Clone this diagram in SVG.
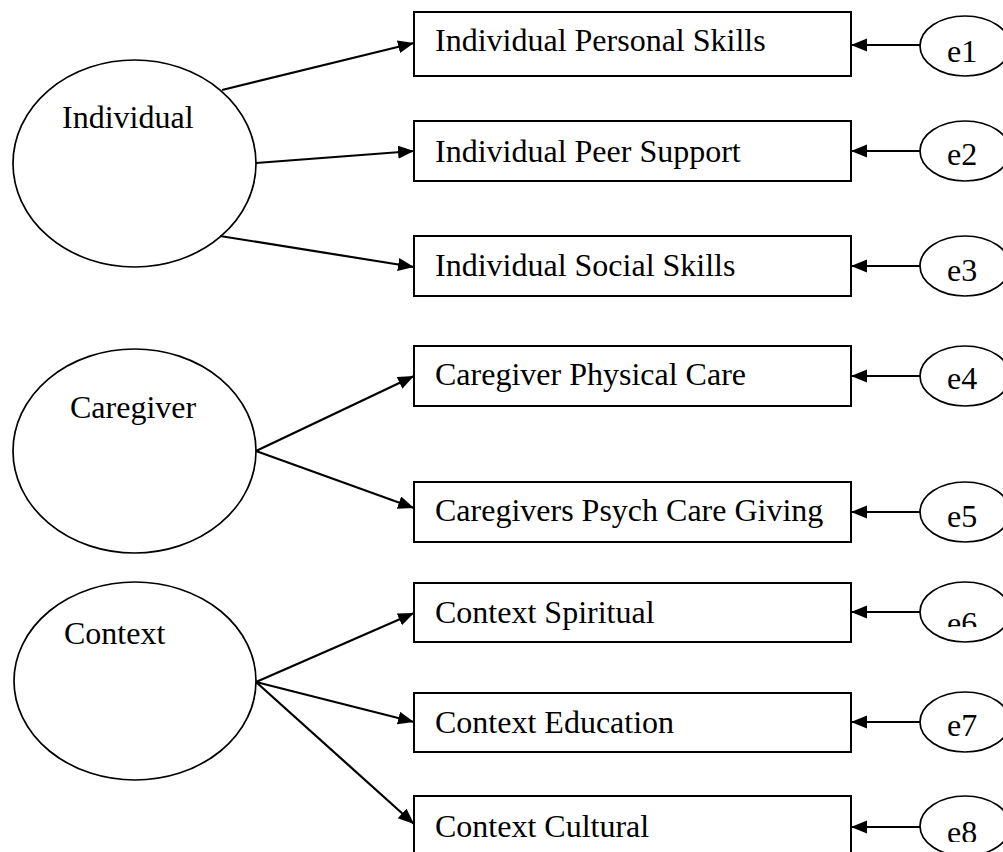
<svg xmlns="http://www.w3.org/2000/svg" width="1003" height="852" viewBox="0 0 1003 852">
<style>
  .t { font-family: "Liberation Serif", "Times New Roman", serif; font-size: 32px; fill: #000; }
  .shape { fill: #fff; stroke: #000; stroke-width: 2; }
  .lat { fill: #fff; stroke: #000; stroke-width: 1.7; }
  .conn { stroke: #000; stroke-width: 2.2; fill: none; marker-end: url(#arr); }
</style>
<defs>
  <marker id="arr" markerUnits="userSpaceOnUse" markerWidth="17" markerHeight="14" refX="16" refY="6.5" orient="auto">
    <path d="M0,0 L16,6.5 L0,13 z" fill="#000"/>
  </marker>
  <clipPath id="c3"><rect x="900" y="230" width="103" height="51"/></clipPath>
  <clipPath id="c6"><rect x="900" y="580" width="103" height="47"/></clipPath>
  <clipPath id="c8"><rect x="900" y="790" width="103" height="52"/></clipPath>
</defs>
<rect width="1003" height="852" fill="#fff"/>

<g id="individual">
  <ellipse class="lat" cx="134.5" cy="163.5" rx="121.5" ry="103.5"/>
  <text class="t" x="62" y="128">Individual</text>
</g>
<g id="caregiver">
  <ellipse class="lat" cx="134.5" cy="451" rx="121.5" ry="102"/>
  <text class="t" x="70" y="418">Caregiver</text>
</g>
<g id="context">
  <ellipse class="lat" cx="135" cy="681" rx="121" ry="99"/>
  <text class="t" x="64" y="644">Context</text>
</g>

<g id="box1"><rect class="shape" x="414" y="12" width="437" height="64"/><text class="t" x="435" y="51">Individual Personal Skills</text></g>
<g id="box2"><rect class="shape" x="414" y="121" width="437" height="60"/><text class="t" x="435" y="162">Individual Peer Support</text></g>
<g id="box3"><rect class="shape" x="414" y="236" width="437" height="60"/><text class="t" x="435" y="276">Individual Social Skills</text></g>
<g id="box4"><rect class="shape" x="414" y="346" width="437" height="60"/><text class="t" x="435" y="385">Caregiver Physical Care</text></g>
<g id="box5"><rect class="shape" x="414" y="482" width="437" height="60"/><text class="t" x="435" y="521">Caregivers Psych Care Giving</text></g>
<g id="box6"><rect class="shape" x="414" y="583" width="437" height="59"/><text class="t" x="435" y="623">Context Spiritual</text></g>
<g id="box7"><rect class="shape" x="414" y="693" width="437" height="59"/><text class="t" x="435" y="733">Context Education</text></g>
<g id="box8"><rect class="shape" x="414" y="796" width="437" height="60"/><text class="t" x="435" y="837">Context Cultural</text></g>

<g id="e1"><ellipse class="lat" cx="965" cy="46" rx="45" ry="30"/><text class="t" x="947" y="62">e1</text></g>
<g id="e2"><ellipse class="lat" cx="965" cy="151" rx="45" ry="30"/><text class="t" x="947" y="165">e2</text></g>
<g id="e3"><ellipse class="lat" cx="965" cy="266" rx="45" ry="30"/><text class="t" x="947" y="281" clip-path="url(#c3)">e3</text></g>
<g id="e4"><ellipse class="lat" cx="965" cy="376" rx="45" ry="30"/><text class="t" x="947" y="389">e4</text></g>
<g id="e5"><ellipse class="lat" cx="965" cy="512" rx="45" ry="30"/><text class="t" x="947" y="527">e5</text></g>
<g id="e6"><ellipse class="lat" cx="965" cy="612" rx="45" ry="30"/><text class="t" x="947" y="634" clip-path="url(#c6)">e6</text></g>
<g id="e7"><ellipse class="lat" cx="965" cy="722" rx="45" ry="30"/><text class="t" x="947" y="736">e7</text></g>
<g id="e8"><ellipse class="lat" cx="965" cy="826" rx="45" ry="30"/><text class="t" x="947" y="843" clip-path="url(#c8)">e8</text></g>

<g id="connectors">
  <line class="conn" x1="222" y1="90" x2="414" y2="43"/>
  <line class="conn" x1="256" y1="163" x2="414" y2="151"/>
  <line class="conn" x1="220" y1="236" x2="414" y2="267"/>
  <line class="conn" x1="256" y1="451" x2="414" y2="376"/>
  <line class="conn" x1="256" y1="451" x2="414" y2="508"/>
  <line class="conn" x1="256" y1="682" x2="414" y2="613"/>
  <line class="conn" x1="256" y1="682" x2="414" y2="722"/>
  <line class="conn" x1="256" y1="682" x2="414" y2="824"/>
  <line class="conn" x1="920" y1="45" x2="851" y2="45"/>
  <line class="conn" x1="920" y1="151" x2="851" y2="151"/>
  <line class="conn" x1="920" y1="266" x2="851" y2="266"/>
  <line class="conn" x1="920" y1="376" x2="851" y2="376"/>
  <line class="conn" x1="920" y1="512" x2="851" y2="512"/>
  <line class="conn" x1="920" y1="612" x2="851" y2="612"/>
  <line class="conn" x1="920" y1="722" x2="851" y2="722"/>
  <line class="conn" x1="920" y1="827" x2="851" y2="827"/>
</g>
</svg>
